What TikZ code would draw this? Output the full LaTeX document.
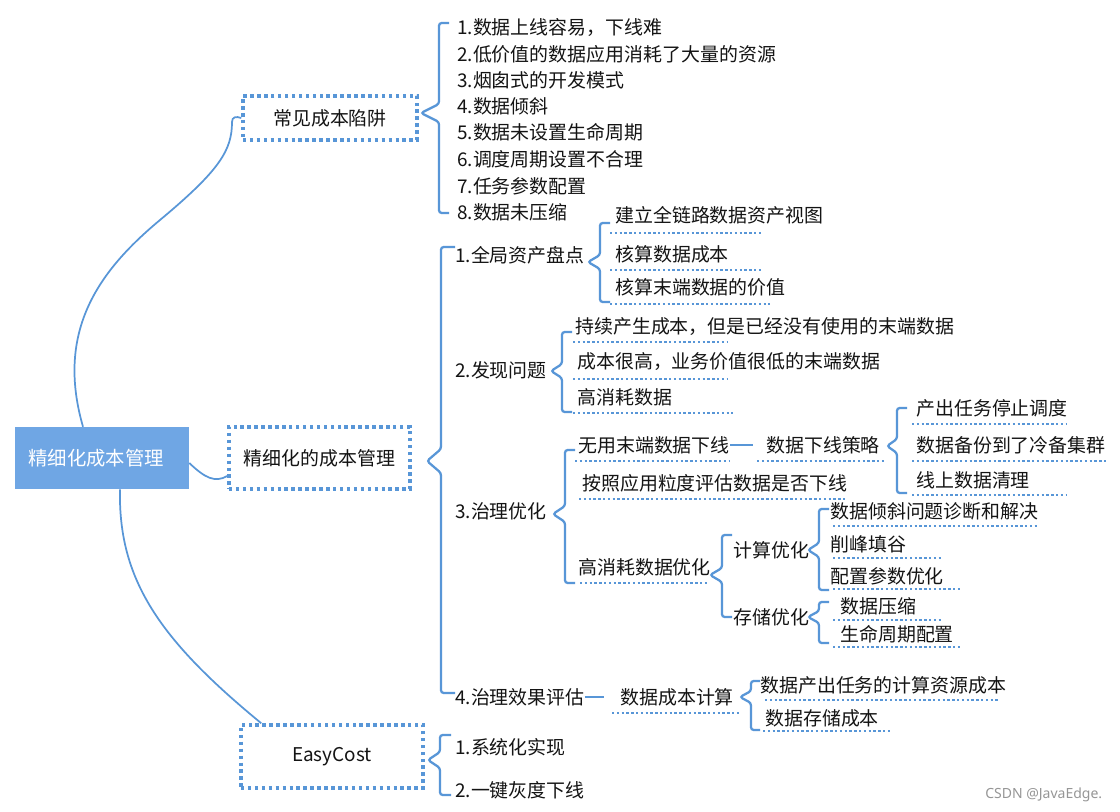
\documentclass[tikz,border=0pt]{standalone}
\usepackage{fontspec}
\newfontfamily\cjk{Noto Sans CJK SC}
\newfontfamily\wmfont{Noto Sans}
\definecolor{lineblue}{RGB}{88,150,215}
\definecolor{rootblue}{RGB}{111,166,228}
\definecolor{txt}{RGB}{20,20,20}
\definecolor{wm}{RGB}{150,150,150}
\tikzset{
 item/.style={anchor=west, inner sep=0pt, font=\cjk\fontsize{14.2}{16}\selectfont, text=txt},
 rootbox/.style={fill=rootblue, draw=none, minimum width=130.5pt, minimum height=46.5pt, text=white, font=\cjk\fontsize{14.5}{17}\selectfont, inner sep=0pt},
 mainbox/.style={draw=lineblue, line width=2.6pt, dash pattern=on 2.6pt off 2.6pt, font=\cjk\fontsize{14.2}{16}\selectfont, text=txt, inner sep=0pt},
 uline/.style={draw=lineblue, line width=1.8pt, dash pattern=on 1.8pt off 1.8pt},
 brline/.style={draw=lineblue, line width=1.7pt, rounded corners=2pt},
 conn/.style={draw=lineblue, line width=1.3pt},
 tie/.style={draw=lineblue, line width=1.7pt},
}
% #1 tip x, #2 tip y, #3 vertical x, #4 top y, #5 bottom y, #6 hook x, #7 notch half height
\newcommand{\mybrace}[7]{%
 \draw[brline] (#6,#4) -- (#3,#4) -- (#3,#2-#7) -- (#1,#2) -- (#3,#2+#7) -- (#3,#5) -- (#6,#5);}
\begin{document}
\begin{tikzpicture}[x=0.75pt,y=-0.75pt]
\useasboundingbox[fill=white] (0,0) rectangle (1120,812);

% root and main branches
\node[rootbox] (root) at (102,458) {\hspace*{-9pt}精细化成本管理};
\node[mainbox, minimum width=130.5pt, minimum height=33pt] (m1) at (330,118) {常见成本陷阱};
\node[mainbox, minimum width=135.75pt, minimum height=46.5pt] (m2) at (319.5,458) {精细化的成本管理};
\node[mainbox, minimum width=136.5pt, minimum height=47.25pt] (m3) at (332,756.5) {EasyCost};

\draw[conn] ([xshift=-14.25pt]root.north) .. controls (55,330) and (100,270) .. (160,220)
  .. controls (220,170) and (232,150) .. (232,122) .. controls (232,117) and (236,116) .. (m1.west);
\draw[conn] ([yshift=-3.75pt]root.east) .. controls (205,478) and (215,483) .. ([yshift=-13.5pt]m2.west);
\draw[conn] ([xshift=13.5pt]root.south) .. controls (118,580) and (160,640) .. ([xshift=16.5pt]m3.north west);

% ---- branch 1
\mybrace{421}{113}{439}{23}{213}{449}{9}
\node[item] (a1) at (457,28) {1.数据上线容易，下线难};
\node[item] (a2) at (457,54) {2.低价值的数据应用消耗了大量的资源};
\node[item] (a3) at (457,80) {3.烟囱式的开发模式};
\node[item] (a4) at (457,106) {4.数据倾斜};
\node[item] (a5) at (457,132) {5.数据未设置生命周期};
\node[item] (a6) at (457,159) {6.调度周期设置不合理};
\node[item] (a7) at (457,186) {7.任务参数配置};
\node[item] (a8) at (457,212) {8.数据未压缩};

% ---- branch 2
\mybrace{427}{461}{441}{247}{693}{455}{12}
\node[item] (b1) at (455,255) {1.全局资产盘点};
\node[item] (b2) at (455,370) {2.发现问题};
\node[item] (b3) at (455,511) {3.治理优化};
\node[item] (b4) at (455,697) {4.治理效果评估};

% b1
\mybrace{588}{262}{600}{223}{302}{610}{7}
\node[item] (b11) at (615,215) {建立全链路数据资产视图};
\node[item] (b12) at (615,254) {核算数据成本};
\node[item] (b13) at (615,287) {核算末端数据的价值};
\draw[uline] (610,233) -- (763,233);
\draw[uline] (610,270) -- (763,270);
\draw[uline] (610,304) -- (770,304);

% b2
\mybrace{551}{371}{562}{332}{412}{572}{7}
\node[item] (b21) at (575,327) {持续产生成本，但是已经没有使用的末端数据};
\node[item] (b22) at (577,362) {成本很高，业务价值很低的末端数据};
\node[item] (b23) at (577,397) {高消耗数据};
\draw[uline] (573,342) -- (727,342);
\draw[uline] (573,379) -- (727,379);
\draw[uline] (573,413) -- (733,413);

% b3
\mybrace{553}{514}{565}{450}{583}{575}{8}
\node[item] (c1) at (578,445) {无用末端数据下线};
\node[item] (c2) at (582,483) {按照应用粒度评估数据是否下线};
\node[item] (c3) at (578,567) {高消耗数据优化};
\draw[uline] (575,461) -- (729,461);
\draw[uline] (579,499) -- (846,499);
\draw[uline] (580,583) -- (708,583);

\node[item] (d0) at (766,445) {数据下线策略};
\draw[tie] (c1.east) -- ([xshift=-10pt]d0.west);
\draw[uline] (757,461) -- (886,461);
\mybrace{887}{446}{897}{408}{493}{907}{7}
\node[item] (d1) at (916,408) {产出任务停止调度};
\node[item] (d2) at (916,445) {数据备份到了冷备集群};
\node[item] (d3) at (916,480) {线上数据清理};
\draw[uline] (912,424) -- (1066,424);
\draw[uline] (912,461) -- (1108,461);
\draw[uline] (912,495) -- (1066,495);

\mybrace{710}{575}{722}{535}{617}{732}{7}
\node[item] (e1) at (733,550) {计算优化};
\node[item] (e2) at (733,617) {存储优化};
\mybrace{808}{550}{819}{509}{590}{829}{7}
\node[item] (e11) at (830,511) {数据倾斜问题诊断和解决};
\node[item] (e12) at (830,544) {削峰填谷};
\node[item] (e13) at (830,576) {配置参数优化};
\draw[uline] (833,526) -- (1037,526);
\draw[uline] (833,558) -- (943,558);
\draw[uline] (833,589) -- (962,589);
\mybrace{808}{617}{819}{602}{643}{829}{6}
\node[item] (e21) at (840,606) {数据压缩};
\node[item] (e22) at (840,634) {生命周期配置};
\draw[uline] (833,620) -- (942,620);
\draw[uline] (833,647) -- (960,647);

% b4
\node[item] (f0) at (620,697) {数据成本计算};
\draw[tie] (b4.east) -- ([xshift=-12pt]f0.west);
\draw[uline] (612,713) -- (740,713);
\mybrace{740}{697}{751}{681}{730}{760}{6}
\node[item] (f1) at (760,685) {数据产出任务的计算资源成本};
\node[item] (f2) at (765,718) {数据存储成本};
\draw[uline] (765,700) -- (1000,700);
\draw[uline] (763,731) -- (890,731);

% ---- branch 3
\mybrace{428}{760}{440}{735}{795}{451}{8}
\node[item] (g1) at (455,747) {1.系统化实现};
\node[item] (g2) at (455,790) {2.一键灰度下线};

% watermark
\node[anchor=west, inner sep=0pt, text=wm, font=\wmfont\fontsize{10.5}{12}\selectfont] (wm) at (985,795) {CSDN @JavaEdge.};
\end{tikzpicture}
\end{document}
